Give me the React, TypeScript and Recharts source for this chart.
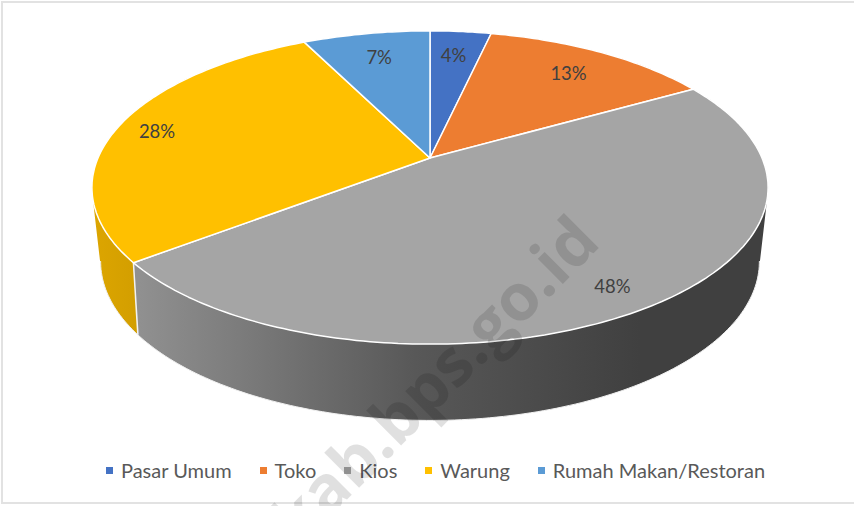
import React from 'react';
import { PieChart, Pie, Legend } from 'recharts';

const categories = ['Pasar Umum', 'Toko', 'Kios', 'Warung', 'Rumah Makan/Restoran'];
const values = [3.5, 13.2, 47.8, 28.2, 7.3];
const topColors = ['#4472C4', '#ED7D31', '#A5A5A5', '#FFC000', '#5B9BD5'];
const wallColors = ['#30548f', '#b05c24', 'url(#wallGrey)', 'url(#wallGold)', '#43739e'];
const labelNudges = [[1, -10], [14, -8], [37, 29], [-53, -4], [-4, -10]];

const rows = categories.map((name, i) => ({ name, value: values[i], fill: topColors[i] }));

const FONT = 'Lato, Carlito, sans-serif';

// disc views: squash, perspective, scale of the radius, vertical drop
const TOP_RIM = { tilt: 0.455, persp: 0.1885, scale: 1, drop: 0 };
const LOW_RIM = { tilt: 0.472, persp: 0.21, scale: 0.97, drop: 70 };

type Rim = typeof TOP_RIM;
type Pt = { x: number; y: number };

// clockwise degrees from 12 o'clock, rho = share of the radius
function project(cx: number, cy: number, r: number, deg: number, rim: Rim, rho = 1): Pt {
  const a = (deg * Math.PI) / 180;
  const X = rho * Math.sin(a);
  const Y = -rho * Math.cos(a);
  const d = 1 - rim.persp * Y;
  const rr = r * rim.scale;
  return { x: cx + (rr * X) / d, y: cy + rim.drop + (rr * rim.tilt * Y) / d };
}

function arc(cx: number, cy: number, r: number, from: number, to: number, rim: Rim) {
  const pts: Pt[] = [];
  const steps = Math.max(2, Math.ceil(Math.abs(to - from)));
  for (let i = 0; i <= steps; i++) {
    pts.push(project(cx, cy, r, from + ((to - from) * i) / steps, rim));
  }
  return pts;
}

const toLine = (pts: Pt[]) => pts.map((p, i) => `${i ? 'L' : 'M'}${p.x.toFixed(1)},${p.y.toFixed(1)}`).join(' ');

function TopSector(props: any) {
  const { cx, cy, outerRadius, startAngle, endAngle, fill } = props;
  const pts = [{ x: cx, y: cy }, ...arc(cx, cy, outerRadius, 90 - startAngle, 90 - endAngle, TOP_RIM)];
  return <path d={toLine(pts) + ' Z'} fill={fill} stroke="#fff" strokeWidth={1.5} strokeLinejoin="round" />;
}

// the wall is swept as small quads so the straight side edges of the drum get filled too
function WallSector(props: any) {
  const { cx, cy, outerRadius, startAngle, endAngle, index } = props;
  const from = 90 - startAngle;
  const to = 90 - endAngle;
  const upper = arc(cx, cy, outerRadius, from, to, TOP_RIM);
  const lower = arc(cx, cy, outerRadius, from, to, LOW_RIM);
  let quads = '';
  for (let i = 0; i < upper.length - 1; i++) {
    const q = [upper[i], upper[i + 1], lower[i + 1], lower[i]];
    let area = 0;
    q.forEach((p, j) => {
      const n = q[(j + 1) % 4];
      area += p.x * n.y - n.x * p.y;
    });
    quads += toLine(area < 0 ? q.reverse() : q) + ' Z ';
  }
  const rimFrom = Math.max(from, 102);
  const rimTo = Math.min(to, 258);
  return (
    <g>
      <path d={quads} fill={wallColors[index]} stroke="none" />
      {rimTo > rimFrom && (
        <path d={toLine(arc(cx, cy, outerRadius, rimFrom, rimTo, LOW_RIM))} fill="none" stroke="#f0f0f0" strokeWidth={1} />
      )}
      {from > 100 && from < 260 && (
        <path d={toLine([upper[0], lower[0]])} fill="none" stroke="#f2f2f2" strokeWidth={1.5} />
      )}
    </g>
  );
}

function renderLabel(props: any) {
  const { cx, cy, outerRadius, midAngle, percent, index } = props;
  const p = project(cx, cy, outerRadius, 90 - midAngle, TOP_RIM, 0.7);
  return (
    <text
      x={p.x + labelNudges[index][0]}
      y={p.y + labelNudges[index][1]}
      textAnchor="middle"
      dominantBaseline="central"
      fontFamily={FONT}
      fontSize={18.5}
      fill="#404040"
    >
      {`${Math.round(percent * 100)}%`}
    </text>
  );
}

function LegendRow() {
  return (
    <div style={{ display: 'flex', justifyContent: 'center', gap: 28, fontFamily: FONT, fontSize: 20, color: '#595959' }}>
      {categories.map((name, i) => (
        <span key={name} style={{ display: 'flex', alignItems: 'center', whiteSpace: 'nowrap' }}>
          <span style={{ width: 7, height: 7, marginRight: 8, background: topColors[i] }} />
          {name}
        </span>
      ))}
    </div>
  );
}

export default function App() {
  return (
    <div style={{ position: 'absolute', left: 0, top: 0, width: 854, height: 506, overflow: 'hidden', background: '#fff' }}>
      <div
        style={{
          position: 'absolute',
          left: 1,
          top: 1,
          width: 853,
          height: 503,
          boxSizing: 'border-box',
          borderTop: '2px solid #e2e2e2',
          borderLeft: '2px solid #e2e2e2',
          borderBottom: '2px solid #e2e2e2',
        }}
      />
      <PieChart width={854} height={506} margin={{ top: 0, right: 0, bottom: 0, left: 0 }} style={{ position: 'absolute', left: 0, top: 0 }}>
        <defs>
          <linearGradient id="wallGrey" gradientUnits="userSpaceOnUse" x1={140} y1={0} x2={640} y2={0}>
            <stop offset="0" stopColor="#909090" />
            <stop offset="0.55" stopColor="#585858" />
            <stop offset="1" stopColor="#404040" />
          </linearGradient>
          <linearGradient id="wallGold" gradientUnits="userSpaceOnUse" x1={95} y1={0} x2={140} y2={0}>
            <stop offset="0" stopColor="#dca500" />
            <stop offset="1" stopColor="#d29e00" />
          </linearGradient>
        </defs>
        <Pie
          data={rows}
          dataKey="value"
          nameKey="name"
          cx={430}
          cy={158}
          outerRadius={332}
          startAngle={90}
          endAngle={-270}
          legendType="none"
          shape={WallSector}
          isAnimationActive={false}
        />
        <Pie
          data={rows}
          dataKey="value"
          nameKey="name"
          cx={430}
          cy={158}
          outerRadius={332}
          startAngle={90}
          endAngle={-270}
          shape={TopSector}
          label={renderLabel}
          labelLine={false}
          isAnimationActive={false}
        />
        <Legend content={LegendRow} wrapperStyle={{ left: 0, width: 871, top: 458 }} />
      </PieChart>
      <div
        style={{
          position: 'absolute',
          left: 608,
          top: 250,
          transformOrigin: '100% 100%',
          transform: 'translate(-100%, -100%) rotate(-45deg)',
          fontFamily: '"Open Sans", sans-serif',
          fontWeight: 700,
          fontSize: 65,
          lineHeight: 1,
          color: 'rgba(0,0,0,0.12)',
          whiteSpace: 'nowrap',
          pointerEvents: 'none',
        }}
      >
        kab.bps.go.id
      </div>
    </div>
  );
}
